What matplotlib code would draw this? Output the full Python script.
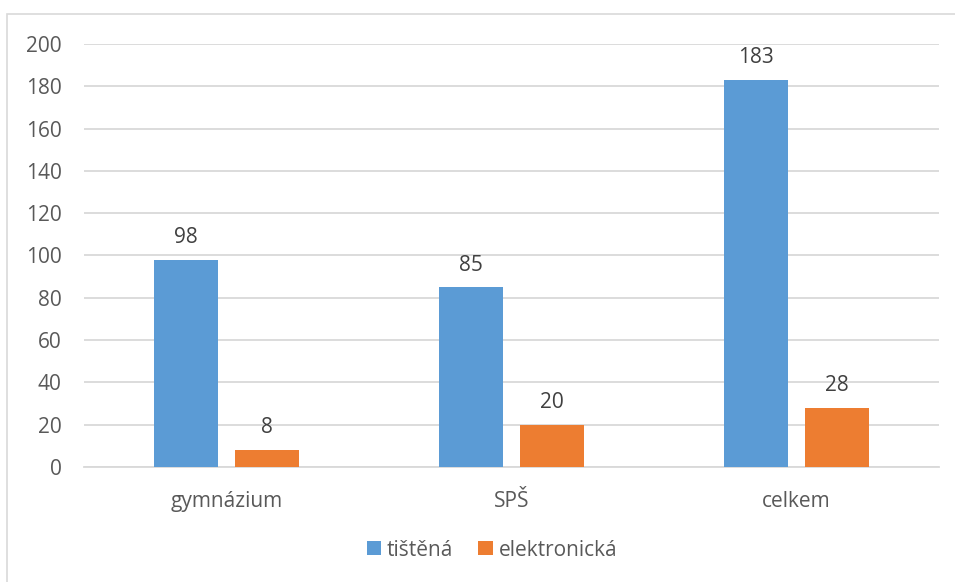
import numpy as np
import matplotlib.pyplot as plt
from matplotlib.patches import Rectangle

categories = ['gymnázium', 'SPŠ', 'celkem']
tistena = [98, 85, 183]
elektronicka = [8, 20, 28]
series_names = ['tištěná', 'elektronická']
yticks = [0, 20, 40, 60, 80, 100, 120, 140, 160, 180, 200]

plt.rcParams['font.family'] = ['Open Sans', 'DejaVu Sans']
text_color = '#595959'
fs = 15

fig = plt.figure(figsize=(9.55, 5.82), dpi=100)
ax = fig.add_axes([0.088, 0.1976, 0.895, 0.7268])

# chart frame (left and top edges visible)
fig.patches.append(Rectangle((7 / 955, -0.1), 1.2, 1 - 14 / 582 + 0.1,
                             transform=fig.transFigure, fill=False,
                             edgecolor='#d9d9d9', linewidth=1.2))

x = np.arange(len(categories))
w = 0.2246
off = 0.142
b1 = ax.bar(x - off, tistena, w, color='#5B9BD5', label=series_names[0], zorder=3)
b2 = ax.bar(x + off, elektronicka, w, color='#ED7D31', label=series_names[1], zorder=3)

for bars, vals in ((b1, tistena), (b2, elektronicka)):
    for bar, v in zip(bars, vals):
        ax.text(bar.get_x() + bar.get_width() / 2, v + 5.5, str(v),
                ha='center', va='bottom', fontsize=fs, color='#404040')

ax.set_xlim(-0.5, 2.5)
ax.set_ylim(0, 200)
ax.set_yticks(yticks)
ax.yaxis.grid(True, color='#d9d9d9', linewidth=1.3, zorder=0)
ax.set_xticks(x)
ax.set_xticklabels(categories)
ax.tick_params(axis='both', length=0, labelsize=fs, labelcolor=text_color)
ax.tick_params(axis='y', pad=16)
ax.tick_params(axis='x', pad=17)
for s in ('left', 'right', 'top'):
    ax.spines[s].set_visible(False)
ax.spines['bottom'].set_color('#d9d9d9')
ax.spines['bottom'].set_linewidth(1.3)

fig.legend(handles=[b1, b2], labels=series_names, loc='center',
           bbox_to_anchor=(492 / 955, 1 - 550 / 582), ncol=2, frameon=False,
           fontsize=fs, labelcolor=text_color, handlelength=0.68, handleheight=0.68,
           handletextpad=0.3, columnspacing=1.2)

fig.savefig('out.png', dpi=100)
